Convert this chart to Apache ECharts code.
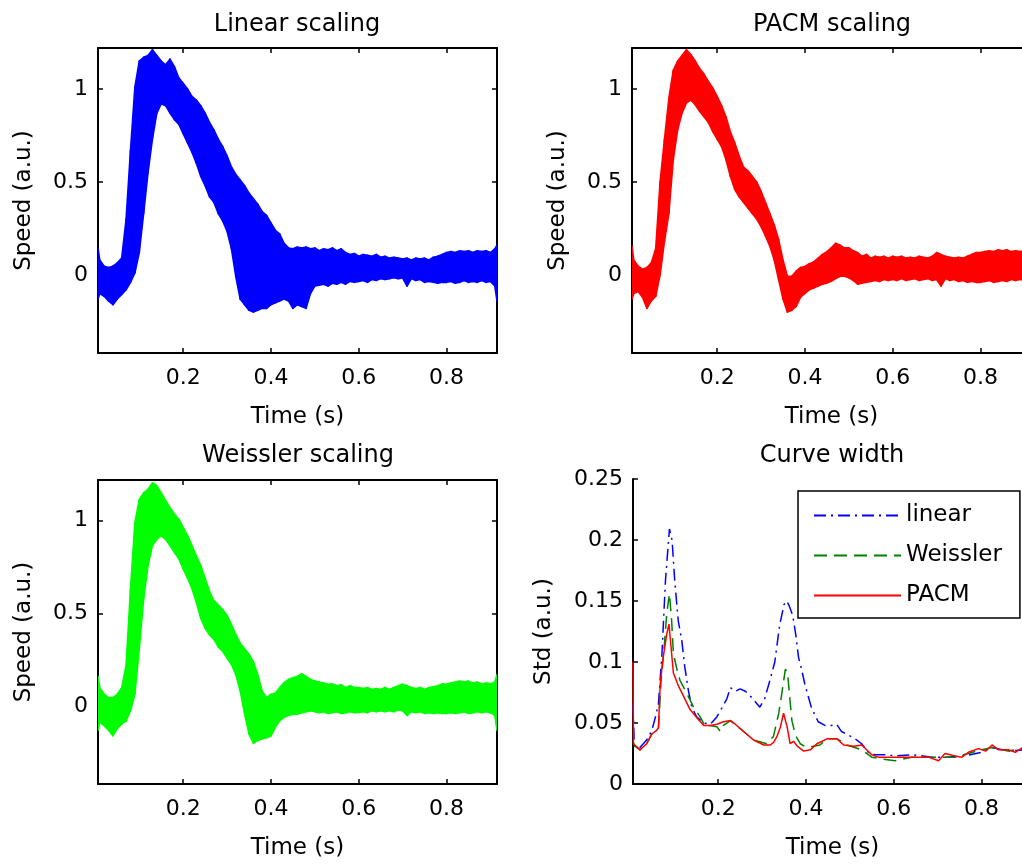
<!DOCTYPE html>
<html><head><meta charset="utf-8">
<script src="https://cdn.jsdelivr.net/npm/echarts@6/dist/echarts.min.js"></script>
<style>html,body{margin:0;padding:0;background:#fff}#c{width:1022px;height:864px}</style>
</head><body><div id="c"></div>
<script>
// ---------- data ----------
const tBand = [0.006,0.01,0.02,0.03,0.04,0.05,0.06,0.07,0.08,0.09,0.10,0.11,0.12,0.13,0.14,0.15,0.16,0.17,0.18,0.19,0.20,0.21,0.22,0.23,0.24,0.25,0.26,0.27,0.28,0.29,0.30,0.31,0.32,0.33,0.34,0.35,0.36,0.37,0.38,0.39,0.40,0.41,0.42,0.43,0.44,0.45,0.46,0.47,0.48,0.49,0.50,0.51,0.52,0.53,0.54,0.55,0.56,0.57,0.58,0.59,0.60,0.61,0.62,0.63,0.64,0.65,0.66,0.67,0.68,0.69,0.70,0.71,0.72,0.73,0.74,0.75,0.76,0.77,0.78,0.79,0.80,0.81,0.82,0.83,0.84,0.85,0.86,0.87,0.88,0.89,0.90,0.91,0.915];

const linearUpper = [0.145,
 0.08,0.047,0.04,0.047,0.065,0.09,0.30,0.67,1.01,1.15,
 1.17,1.18,1.21,1.18,1.15,1.13,1.16,1.12,1.06,1.03,
 1.00,0.96,0.94,0.91,0.87,0.82,0.78,0.73,0.69,0.64,
 0.58,0.54,0.51,0.48,0.44,0.41,0.38,0.34,0.32,0.28,
 0.24,0.22,0.17,0.145,0.14,0.15,0.145,0.15,0.14,0.145,
 0.13,0.14,0.135,0.145,0.13,0.14,0.12,0.11,0.115,0.10,
 0.11,0.105,0.10,0.11,0.095,0.10,0.09,0.095,0.09,0.085,
 0.09,0.08,0.09,0.085,0.09,0.08,0.095,0.10,0.11,0.12,
 0.125,0.12,0.13,0.125,0.13,0.12,0.13,0.125,0.13,0.12,0.14,
 0.16];
const linearLower = [-0.13,
 -0.10,-0.115,-0.14,-0.16,-0.13,-0.105,-0.08,-0.04,0.01,0.12,
 0.33,0.55,0.73,0.87,0.92,0.91,0.87,0.835,0.81,0.76,
 0.71,0.66,0.60,0.53,0.48,0.42,0.39,0.33,0.29,0.235,
 0.14,-0.01,-0.13,-0.16,-0.19,-0.20,-0.19,-0.18,-0.18,-0.16,
 -0.15,-0.14,-0.13,-0.14,-0.18,-0.16,-0.17,-0.18,-0.10,-0.06,
 -0.055,-0.05,-0.06,-0.045,-0.05,-0.04,-0.05,-0.035,-0.04,-0.035,
 -0.03,-0.04,-0.025,-0.03,-0.02,-0.025,-0.02,-0.015,-0.02,-0.016,
 -0.06,-0.02,-0.03,-0.025,-0.04,-0.035,-0.04,-0.045,-0.04,-0.04,
 -0.035,-0.045,-0.04,-0.03,-0.04,-0.035,-0.04,-0.03,-0.04,-0.035,-0.06,
 -0.14];

const pacmUpper = [0.155,
 0.08,0.047,0.03,0.04,0.065,0.14,0.50,0.73,0.95,1.10,
 1.15,1.18,1.21,1.185,1.15,1.11,1.08,1.04,1.005,0.96,
 0.91,0.85,0.77,0.71,0.64,0.58,0.56,0.53,0.50,0.45,
 0.39,0.33,0.27,0.19,0.08,-0.007,-0.007,0.02,0.04,0.045,
 0.06,0.07,0.09,0.11,0.125,0.145,0.17,0.16,0.145,0.145,
 0.13,0.12,0.10,0.11,0.09,0.10,0.095,0.10,0.09,0.10,
 0.095,0.10,0.09,0.095,0.09,0.10,0.095,0.09,0.10,0.12,
 0.11,0.10,0.095,0.09,0.095,0.09,0.10,0.11,0.12,0.12,
 0.125,0.13,0.125,0.135,0.13,0.135,0.125,0.13,0.125,0.13,0.12,
 0.12];
const pacmLower = [-0.13,
 -0.10,-0.09,-0.12,-0.18,-0.14,-0.115,0.0,0.18,0.33,0.62,
 0.78,0.87,0.925,0.94,0.915,0.88,0.85,0.82,0.77,0.73,
 0.69,0.62,0.53,0.46,0.42,0.39,0.36,0.33,0.30,0.26,
 0.21,0.155,0.08,-0.025,-0.13,-0.20,-0.19,-0.17,-0.12,-0.10,
 -0.08,-0.07,-0.06,-0.05,-0.043,-0.034,-0.02,-0.007,-0.007,-0.015,
 -0.03,-0.05,-0.045,-0.04,-0.035,-0.03,-0.035,-0.025,-0.03,-0.025,
 -0.03,-0.02,-0.03,-0.025,-0.02,-0.03,-0.025,-0.02,-0.03,-0.025,
 -0.06,-0.02,-0.03,-0.025,-0.035,-0.03,-0.04,-0.035,-0.04,-0.04,
 -0.035,-0.03,-0.04,-0.035,-0.03,-0.035,-0.025,-0.03,-0.025,-0.03,-0.025,
 -0.02];

const weisslerUpper = [0.16,
 0.10,0.064,0.046,0.046,0.064,0.10,0.22,0.63,0.99,1.115,
 1.15,1.17,1.205,1.19,1.15,1.11,1.07,1.035,1.01,0.965,
 0.92,0.866,0.81,0.76,0.69,0.62,0.57,0.545,0.52,0.49,
 0.44,0.385,0.34,0.31,0.28,0.24,0.17,0.08,0.046,0.064,
 0.07,0.10,0.127,0.144,0.153,0.16,0.175,0.16,0.144,0.135,
 0.13,0.125,0.118,0.12,0.11,0.115,0.10,0.11,0.10,0.10,
 0.095,0.10,0.09,0.095,0.09,0.10,0.09,0.10,0.11,0.118,
 0.11,0.10,0.095,0.10,0.09,0.10,0.105,0.11,0.12,0.118,
 0.125,0.13,0.135,0.13,0.135,0.125,0.13,0.12,0.125,0.12,0.13,
 0.17];
const weisslerLower = [-0.13,
 -0.087,-0.105,-0.13,-0.16,-0.12,-0.096,-0.08,-0.025,0.064,0.31,
 0.58,0.76,0.866,0.90,0.92,0.90,0.866,0.83,0.795,0.74,
 0.69,0.635,0.56,0.474,0.42,0.385,0.36,0.32,0.296,0.26,
 0.225,0.17,0.082,-0.043,-0.15,-0.20,-0.185,-0.176,-0.17,-0.16,
 -0.114,-0.078,-0.06,-0.05,-0.043,-0.043,-0.035,-0.03,-0.025,-0.03,
 -0.035,-0.03,-0.04,-0.035,-0.03,-0.04,-0.035,-0.03,-0.035,-0.034,
 -0.03,-0.035,-0.025,-0.03,-0.025,-0.03,-0.025,-0.03,-0.02,-0.025,
 -0.05,-0.03,-0.035,-0.03,-0.04,-0.035,-0.04,-0.035,-0.04,-0.04,
 -0.035,-0.04,-0.035,-0.03,-0.04,-0.035,-0.03,-0.035,-0.03,-0.035,-0.05,
 -0.13];

const linearT = [0.006,0.009,0.022,0.037,0.049,0.058,0.064,0.072,0.080,0.089,0.095,0.101,0.109,0.117,0.124,0.132,0.140,0.151,0.167,0.182,0.197,0.208,0.220,0.228,0.239,0.250,0.262,0.276,0.295,0.306,0.318,0.329,0.340,0.350,0.356,0.362,0.370,0.377,0.383,0.390,0.398,0.413,0.428,0.443,0.458,0.470,0.481,0.497,0.512,0.527,0.542,0.557,0.580,0.603,0.641,0.687,0.720,0.760,0.800,0.824,0.860,0.894,0.915];
const linearStd = [0.066,0.031,0.030,0.036,0.044,0.056,0.066,0.107,0.167,0.209,0.200,0.167,0.134,0.118,0.096,0.077,0.063,0.055,0.050,0.049,0.055,0.062,0.070,0.079,0.076,0.078,0.076,0.071,0.063,0.070,0.085,0.100,0.130,0.147,0.150,0.146,0.138,0.122,0.104,0.094,0.081,0.062,0.051,0.048,0.048,0.049,0.043,0.040,0.037,0.033,0.026,0.024,0.024,0.023,0.024,0.022,0.022,0.023,0.026,0.030,0.027,0.028,0.030];

const weisslerT = [0.006,0.010,0.022,0.037,0.049,0.060,0.064,0.070,0.077,0.083,0.089,0.094,0.098,0.106,0.113,0.129,0.144,0.159,0.171,0.182,0.197,0.205,0.212,0.228,0.258,0.281,0.311,0.326,0.338,0.345,0.353,0.358,0.362,0.368,0.376,0.387,0.402,0.417,0.432,0.448,0.471,0.494,0.527,0.550,0.565,0.603,0.641,0.700,0.740,0.770,0.800,0.824,0.860,0.894,0.915];
const weisslerStd = [0.035,0.031,0.028,0.033,0.041,0.044,0.046,0.085,0.112,0.140,0.156,0.134,0.107,0.094,0.085,0.074,0.063,0.055,0.047,0.048,0.047,0.043,0.048,0.052,0.043,0.036,0.033,0.039,0.058,0.074,0.094,0.092,0.075,0.052,0.040,0.033,0.030,0.031,0.032,0.037,0.037,0.032,0.028,0.022,0.021,0.019,0.022,0.022,0.022,0.025,0.028,0.030,0.027,0.029,0.029];

const pacmT = [0.006,0.007,0.022,0.037,0.049,0.060,0.064,0.068,0.074,0.083,0.088,0.094,0.098,0.110,0.121,0.136,0.152,0.167,0.182,0.197,0.212,0.228,0.239,0.258,0.281,0.304,0.319,0.326,0.334,0.342,0.349,0.357,0.364,0.372,0.380,0.395,0.410,0.425,0.448,0.471,0.486,0.509,0.527,0.550,0.565,0.603,0.641,0.679,0.702,0.717,0.740,0.755,0.770,0.793,0.810,0.824,0.839,0.862,0.877,0.894,0.915];
const pacmStd = [0.100,0.033,0.028,0.033,0.041,0.044,0.046,0.082,0.102,0.123,0.131,0.107,0.091,0.080,0.072,0.061,0.054,0.048,0.048,0.049,0.051,0.052,0.049,0.043,0.036,0.032,0.032,0.034,0.039,0.047,0.058,0.047,0.033,0.035,0.031,0.027,0.028,0.033,0.037,0.037,0.032,0.031,0.032,0.024,0.022,0.022,0.022,0.022,0.019,0.025,0.023,0.022,0.026,0.029,0.027,0.032,0.028,0.028,0.026,0.030,0.029];

const xTicks = [0.2, 0.4, 0.6, 0.8];
const speedTicks = [0, 0.5, 1];
const stdTicks = [0, 0.05, 0.1, 0.15, 0.2, 0.25];
const titles = ['Linear scaling', 'PACM scaling', 'Weissler scaling', 'Curve width'];
const legendNames = ['linear', 'Weissler', 'PACM'];

// ---------- layout / style ----------
const FONT = 'DejaVu Sans';
const X_MIN = 0.006, X_MAX = 0.915;
const Y_MIN = -0.42, Y_MAX = 1.22;
const grids = [
  {left: 98, top: 48, width: 399, height: 305},
  {left: 632, top: 48, width: 399, height: 305},
  {left: 98, top: 480, width: 399, height: 304},
  {left: 633, top: 479, width: 399, height: 305}
];
const axisLineStyle = {color: '#000', width: 2};
const tickStyle = {color: '#000', width: 1.5};
const labelStyle = {fontSize: 22, color: '#000', fontFamily: FONT};
const nameStyle = {fontSize: 23, color: '#000', fontFamily: FONT};

const xAxis = [], yAxis = [], series = [];

function addAxes(gi, boxed, yMin, yMax, yTicks, yName, yNameGap) {
  const xb = xAxis.length;
  xAxis.push({
    type: 'value', gridIndex: gi, position: 'bottom', min: X_MIN, max: X_MAX,
    splitLine: {show: false},
    axisLine: {show: true, onZero: false, lineStyle: axisLineStyle},
    axisTick: {show: true, inside: true, length: 5, customValues: xTicks, lineStyle: tickStyle},
    axisLabel: {show: true, customValues: xTicks, margin: 14, ...labelStyle},
    name: 'Time (s)', nameLocation: 'middle', nameGap: 53, nameTextStyle: nameStyle
  });
  if (boxed) {
    xAxis.push({
      type: 'value', gridIndex: gi, position: 'top', min: X_MIN, max: X_MAX,
      splitLine: {show: false},
      axisLine: {show: true, onZero: false, lineStyle: axisLineStyle},
      axisTick: {show: true, inside: true, length: 5, customValues: xTicks, lineStyle: tickStyle},
      axisLabel: {show: false}
    });
  }
  const yb = yAxis.length;
  yAxis.push({
    type: 'value', gridIndex: gi, position: 'left', min: yMin, max: yMax,
    splitLine: {show: false},
    axisLine: {show: true, onZero: false, lineStyle: axisLineStyle},
    axisTick: {show: true, inside: true, length: 5, customValues: yTicks, lineStyle: tickStyle},
    axisLabel: {show: true, customValues: yTicks, margin: 10, ...labelStyle},
    name: yName, nameLocation: 'middle', nameGap: yNameGap, nameRotate: 90, nameTextStyle: nameStyle
  });
  if (boxed) {
    yAxis.push({
      type: 'value', gridIndex: gi, position: 'right', min: yMin, max: yMax,
      splitLine: {show: false},
      axisLine: {show: true, onZero: false, lineStyle: axisLineStyle},
      axisTick: {show: true, inside: true, length: 5, customValues: yTicks, lineStyle: tickStyle},
      axisLabel: {show: false}
    });
  }
  return {xi: xb, yi: yb};
}

// band of curves: filled region between lower and upper envelopes, one quad per interval
function addBand(key, ax, lower, upper, color) {
  const data = tBand.map((t, i) => [t, lower[i], upper[i]]);
  series.push({
    type: 'custom', name: key, xAxisIndex: ax.xi, yAxisIndex: ax.yi,
    coordinateSystem: 'cartesian2d', clip: true, silent: true, animation: false,
    encode: {x: 0, y: [1, 2]},
    data: data,
    renderItem: function (params, api) {
      const i = params.dataIndex;
      if (i >= data.length - 1) return null;
      const n = data[i + 1];
      const pts = [
        api.coord([api.value(0), api.value(2)]),
        api.coord([n[0], n[2]]),
        api.coord([n[0], n[1]]),
        api.coord([api.value(0), api.value(1)])
      ];
      return {
        type: 'polygon', shape: {points: pts},
        style: {fill: color, stroke: color, lineWidth: 1.6, lineJoin: 'round'}
      };
    }
  });
}

const a0 = addAxes(0, true, Y_MIN, Y_MAX, speedTicks, 'Speed (a.u.)', 62);
const a1 = addAxes(1, true, Y_MIN, Y_MAX, speedTicks, 'Speed (a.u.)', 62);
const a2 = addAxes(2, true, Y_MIN, Y_MAX, speedTicks, 'Speed (a.u.)', 62);
const a3 = addAxes(3, false, 0, 0.25, stdTicks, 'Std (a.u.)', 77);

addBand('lin', a0, linearLower, linearUpper, '#0000ff');
addBand('pac', a1, pacmLower, pacmUpper, '#ff0000');
addBand('wei', a2, weisslerLower, weisslerUpper, '#00ff00');

function addStd(name, ts, vs, color, type) {
  series.push({
    type: 'line', name: name, xAxisIndex: a3.xi, yAxisIndex: a3.yi,
    data: ts.map((t, i) => [t, vs[i]]), symbol: 'none', showSymbol: false, animation: false,
    lineStyle: {color: color, width: 1.5, type: type}, itemStyle: {color: color}
  });
}
addStd(legendNames[0], linearT, linearStd, '#0000ff', [12, 5, 2, 5]);
addStd(legendNames[1], weisslerT, weisslerStd, '#008000', [13, 7]);
addStd(legendNames[2], pacmT, pacmStd, '#ff0000', 'solid');

const titleCenters = [[292, 8], [827, 8], [293, 439], [827, 439]];
const title = titles.map((txt, i) => ({
  text: txt, left: titleCenters[i][0], top: titleCenters[i][1], textAlign: 'center',
  textStyle: {fontSize: 24, fontWeight: 'normal', color: '#000', fontFamily: FONT}
}));

const option = {
  animation: false,
  backgroundColor: '#fff',
  textStyle: {fontFamily: FONT},
  title: title,
  grid: grids.map(g => Object.assign({containLabel: false, outerBoundsMode: 'none'}, g)),
  xAxis: xAxis,
  yAxis: yAxis,
  legend: {
    data: legendNames, orient: 'vertical', left: 798, top: 491,
    itemWidth: 87, itemHeight: 14, itemGap: 17, padding: [13, 18, 11, 15],
    borderColor: '#000', borderWidth: 1.5, backgroundColor: '#fff', borderRadius: 0,
    selectedMode: false, itemStyle: {opacity: 0, borderWidth: 0},
    textStyle: {fontSize: 23, color: '#000', fontFamily: FONT}
  },
  series: series
};

const chart = echarts.init(document.getElementById('c'), null, {renderer: 'canvas'});
chart.setOption(option);
</script>
</body></html>
